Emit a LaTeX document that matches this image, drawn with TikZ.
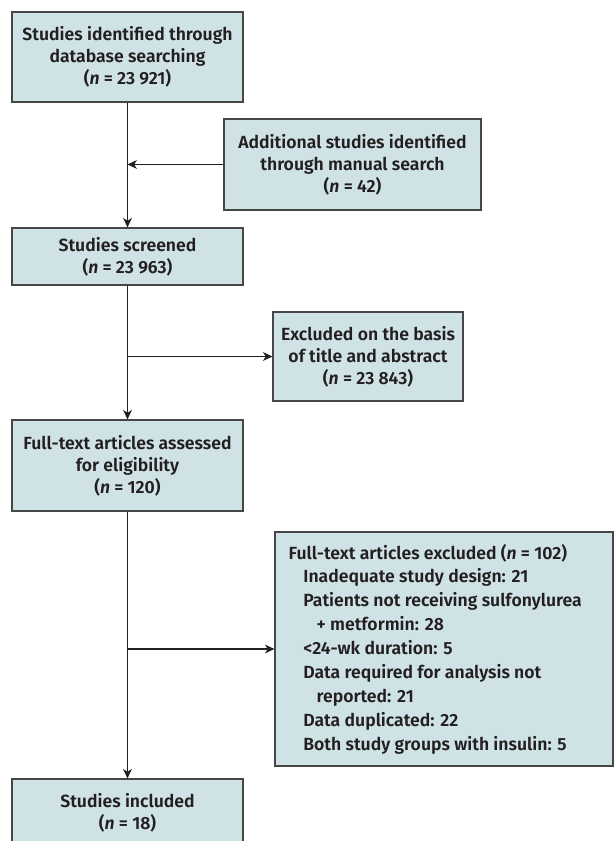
\documentclass[tikz,border=0pt]{standalone}
\usepackage{fontspec}
\setmainfont{Fira Sans}[BoldFont={Fira Sans SemiBold},BoldItalicFont={Fira Sans SemiBold Italic}]
\usetikzlibrary{arrows.meta}
\definecolor{boxfill}{RGB}{207,226,230}
\definecolor{boxline}{RGB}{70,70,70}
\definecolor{txt}{RGB}{35,31,32}
\tikzset{
  flowbox/.style={draw=boxline, line width=0.9pt, fill=boxfill, text=txt,
    font=\fontsize{13.2pt}{16.5pt}\selectfont\bfseries, align=center, inner sep=0pt},
  flowarrow/.style={draw=txt, line width=0.8pt, -{Stealth[length=7pt,width=6.5pt,inset=2pt]}},
  flowline/.style={draw=txt, line width=0.8pt}
}
\begin{document}
\begin{tikzpicture}[x=0.75pt,y=-0.75pt]
\useasboundingbox (0,0) rectangle (615,841);
\begin{scope}
\clip (0,0) rectangle (615,841);
\node[flowbox, minimum width=173.25pt, minimum height=67.5pt] (b1) at (127.5,57)
  {Studies identified through\\database searching\\(\textit{n} = 23 921)};
\node[flowbox, minimum width=192.75pt, minimum height=68.25pt] (b2) at (352.5,164.5)
  {Additional studies identified\\through manual search\\(\textit{n} = 42)};
\node[flowbox, minimum width=173.25pt, minimum height=42.75pt] (b3) at (127.5,256.5)
  {Studies screened\\(\textit{n} = 23 963)};
\node[flowbox, minimum width=142.5pt, minimum height=66.75pt] (b4) at (368,356.5)
  {Excluded on the basis\\of title and abstract\\(\textit{n} = 23 843)};
\node[flowbox, minimum width=173.25pt, minimum height=68.25pt] (b5) at (127.5,465.5)
  {Full-text articles assessed\\for eligibility\\(\textit{n} = 120)};
\node[flowbox, minimum width=253.5pt, minimum height=175.5pt, align=left,
  font=\fontsize{13.2pt}{17.9pt}\selectfont\bfseries] (b6) at (444,649)
  {\makebox[233pt][l]{Full-text articles excluded (\textit{n} = 102)}\\
   \hspace*{11pt}Inadequate study design: 21\\
   \hspace*{11pt}Patients not receiving sulfonylurea\\
   \hspace*{21pt}+ metformin: 28\\
   \hspace*{11pt}<24-wk duration: 5\\
   \hspace*{11pt}Data required for analysis not\\
   \hspace*{21pt}reported: 21\\
   \hspace*{11pt}Data duplicated: 22\\
   \hspace*{11pt}Both study groups with insulin: 5};
\node[flowbox, minimum width=173.25pt, minimum height=51pt] (b7) at (127.5,813)
  {Studies included\\(\textit{n} = 18)};
\draw[flowarrow] (b1) -- (b3);
\draw[flowarrow] (b2.west) -- (b2.west -| b1.center);
\draw[flowarrow] (b3) -- (b5);
\draw[flowarrow] (b4.west -| b3.center) -- (b4.west);
\draw[flowarrow] (b5) -- (b7);
\draw[flowarrow] (b6.west -| b5.center) -- (b6.west);
\end{scope}
\end{tikzpicture}
\end{document}
